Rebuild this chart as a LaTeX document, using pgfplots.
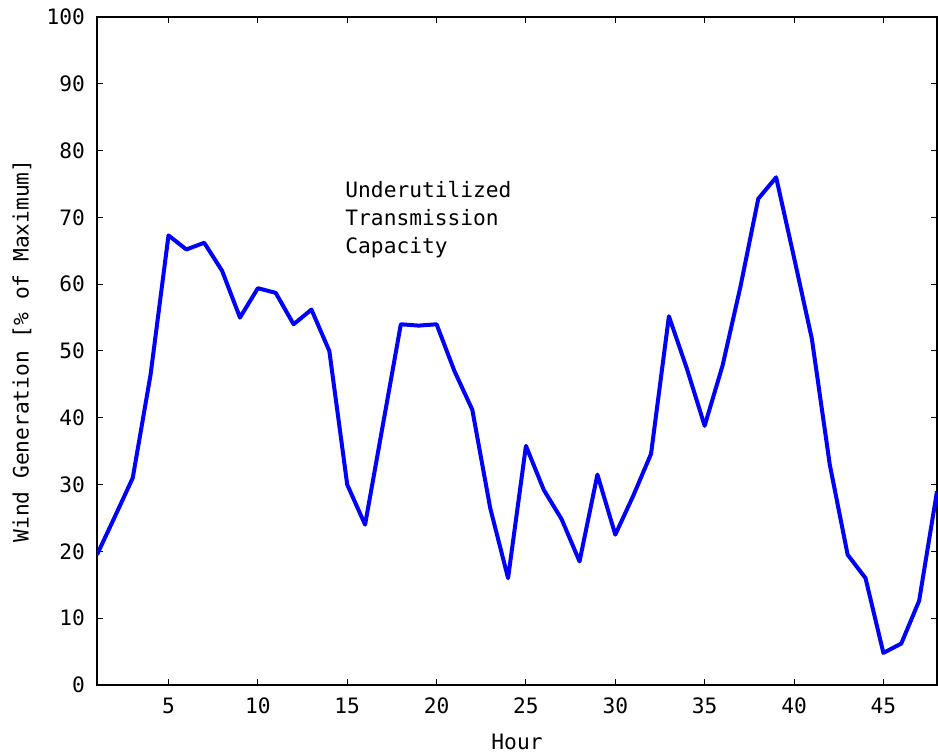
\documentclass[border=0pt]{standalone}
\usepackage{fontspec}
\setmainfont{DejaVu Sans Mono}
\usepackage{pgfplots}
\pgfplotsset{compat=1.18}

% Hourly wind generation, percent of maximum
\pgfplotstableread{
hour gen
1  19.5
2  25.2
3  31
4  46.5
5  67.3
6  65.2
7  66.2
8  62
9  55
10 59.4
11 58.7
12 54
13 56.2
14 50
15 30
16 24
17 39
18 54
19 53.8
20 54
21 47
22 41.2
23 26.5
24 16
25 35.8
26 29.2
27 24.8
28 18.5
29 31.5
30 22.5
31 28.3
32 34.6
33 55.2
34 47.4
35 38.8
36 47.8
37 59.6
38 72.8
39 76
40 64
41 51.8
42 33
43 19.5
44 16
45 4.8
46 6.2
47 12.6
48 29
}\windtable

\begin{document}
\begin{tikzpicture}[font=\fontsize{10.6pt}{12pt}\selectfont]
\begin{axis}[
  name=ax,
  scale only axis,
  width=420pt, height=334pt,
  xmin=1, xmax=48, ymin=0, ymax=100,
  xtick={5,10,...,45},
  ytick={0,10,...,100},
  tick align=inside,
  major tick length=3pt,
  axis line style={line width=0.8pt},
  tick style={line width=0.5pt, black},
  /pgf/number format/assume math mode=true,
  yticklabel style={xshift=-2.5pt},
  xticklabel style={yshift=-3pt},
  xlabel={Hour},
  ylabel={Wind Generation [\% of Maximum]},
  xlabel style={at={(axis description cs:0.5,-0.0853)}, anchor=center},
  ylabel style={at={(axis description cs:-0.0893,0.5)}, anchor=center},
]
\addplot[color={rgb,255:red,0;green,0;blue,255}, line width=2pt, line join=round] table[x=hour, y=gen] {\windtable};
\node[anchor=north west, align=left, inner sep=0pt,
      font=\fontsize{10.6pt}{14pt}\selectfont]
  at (axis cs:14.88,75.4) {Underutilized\\Transmission\\Capacity};
\end{axis}
\pgfresetboundingbox
\path[use as bounding box]
  ([xshift=-48.5pt,yshift=-35pt]ax.south west)
  rectangle ([xshift=0.5pt,yshift=8.5pt]ax.north east);
\end{tikzpicture}
\end{document}
